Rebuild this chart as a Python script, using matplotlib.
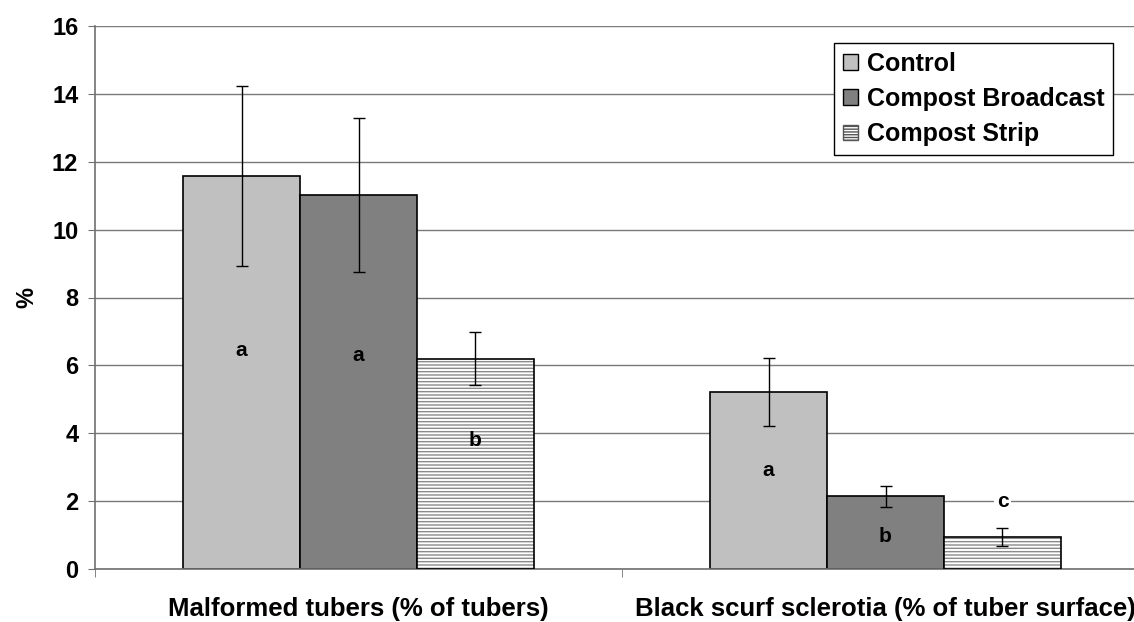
#!/usr/bin/env python3

# Imports
import matplotlib
matplotlib.use('Agg')
import matplotlib.pyplot as plt
from matplotlib.patches import Patch
import numpy as np

plt.rcParams['font.family'] = ['Liberation Sans', 'DejaVu Sans']
plt.rcParams['font.weight'] = 'bold'
plt.rcParams['hatch.linewidth'] = 1.0

# Data
categories = ['Malformed tubers (% of tubers)', 'Black scurf sclerotia (% of tuber surface)']
series = ['Control', 'Compost Broadcast', 'Compost Strip']
control = [11.58, 5.21]
broadcast = [11.02, 2.15]
strip = [6.2, 0.94]
control_err = [2.65, 1.0]
broadcast_err = [2.28, 0.31]
strip_err = [0.78, 0.26]
# significance letters and the height they sit at
control_letters = ['a', 'a']
broadcast_letters = ['a', 'b']
strip_letters = ['b', 'c']
control_letter_y = [6.45, 2.9]
broadcast_letter_y = [6.3, 0.97]
strip_letter_y = [3.8, 2.0]

colors = ['#c0c0c0', '#808080', 'white']

# Figure and axes (the plot area runs a little past the right edge, as in the original)
fig = plt.figure(figsize=(11.34, 6.22), dpi=100, facecolor='w')
ax = fig.add_axes([95 / 1134, 53 / 622, 1054 / 1134, 543 / 622])

x = np.arange(len(categories))
w = 0.222
values = [control, broadcast, strip]
errs = [control_err, broadcast_err, strip_err]
letters = [control_letters, broadcast_letters, strip_letters]
letter_y = [control_letter_y, broadcast_letter_y, strip_letter_y]

for i in range(3):
    pos = x + (i - 1) * w
    if i == 2:
        # hatch in grey, outline in black drawn on top
        ax.bar(pos, values[i], w, color='white', edgecolor='#8a8a8a', hatch='-----',
               linewidth=0, zorder=2)
        ax.bar(pos, values[i], w, fill=False, edgecolor='black', linewidth=1.2, zorder=3)
    else:
        ax.bar(pos, values[i], w, color=colors[i], edgecolor='black', linewidth=1.2, zorder=2)
    ax.errorbar(pos, values[i], yerr=errs[i], fmt='none', ecolor='black',
                elinewidth=1, capsize=4, capthick=1, zorder=4)
    for j in range(len(categories)):
        t = ax.text(pos[j], letter_y[i][j], letters[i][j], ha='center', va='center',
                    fontsize=15, fontweight='bold', zorder=5)
        if letters[i][j] == 'c':
            t.set_bbox(dict(facecolor='white', edgecolor='none', pad=2))

# Axes styling
ax.set_xlim(-0.5, 1.5)
ax.set_ylim(0, 16)
ax.set_yticks(np.arange(0, 17, 2))
ax.yaxis.grid(True, color='#7a7a7a', linewidth=1)
ax.set_axisbelow(True)
for s in ['top', 'right']:
    ax.spines[s].set_visible(False)
for s in ['left', 'bottom']:
    ax.spines[s].set_color('#707070')
    ax.spines[s].set_linewidth(1.2)

ax.tick_params(axis='y', labelsize=17, length=5, pad=7, color='#707070')
for lab in ax.get_yticklabels():
    lab.set_fontweight('bold')
ax.set_xticks(x)
ax.set_xticklabels(categories, fontsize=18.5, fontweight='bold')
ax.tick_params(axis='x', which='major', length=0, pad=20)
ax.set_xticks([-0.5, 0.5, 1.5], minor=True)
ax.tick_params(axis='x', which='minor', length=6, color='#707070')
ax.set_ylabel('%', fontsize=17, fontweight='bold', labelpad=10)

# Legend
handles = [Patch(facecolor=colors[0], edgecolor='black'),
           Patch(facecolor=colors[1], edgecolor='black'),
           Patch(facecolor='white', edgecolor='#555555', hatch='------')]
leg = ax.legend(handles, series, loc='upper right', bbox_to_anchor=(1113 / 1134, (622 - 43) / 622),
                bbox_transform=fig.transFigure, prop={'weight': 'bold', 'size': 18},
                fancybox=False, framealpha=1, edgecolor='black', handlelength=0.6,
                handleheight=0.6, handletextpad=0.35, borderpad=0.35, labelspacing=0.45,
                borderaxespad=0)
leg.get_frame().set_linewidth(1)

# Saving the plot
fig.savefig('out.png', dpi=100)
